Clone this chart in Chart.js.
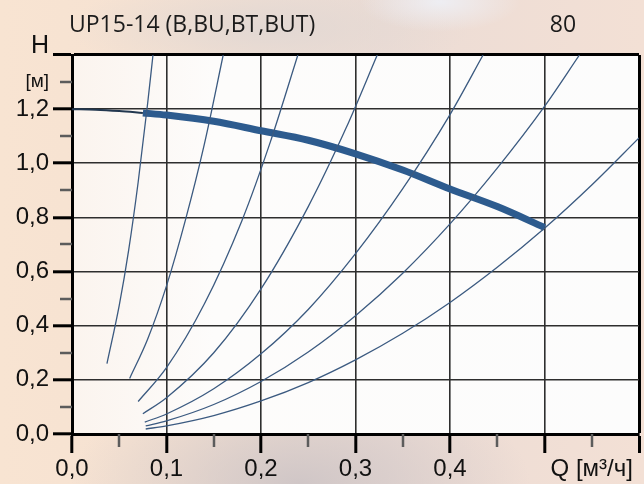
<!DOCTYPE html>
<html>
<head>
<meta charset="utf-8">
<script src="https://cdn.jsdelivr.net/npm/chart.js@4.4.1/dist/chart.umd.min.js"></script>
<style>
  html, body { margin: 0; padding: 0; }
  body {
    width: 644px; height: 484px; overflow: hidden;
    background:
      radial-gradient(ellipse 80px 30px at 440px 2px, rgba(238,241,248,0.85), rgba(238,241,248,0)),
      radial-gradient(ellipse 230px 110px at 300px 484px, rgba(206,197,198,0.95), rgba(206,197,198,0)),
      radial-gradient(ellipse 200px 55px at 270px 28px, rgba(224,215,211,0.9), rgba(224,215,211,0)),
      linear-gradient(90deg, #f8e4d2 0%, #f5e1d2 30%, #ecdcd5 60%, #f3e0d5 100%);
  }
  canvas { display: block; }
</style>
</head>
<body>
<canvas id="pump" width="644" height="484"></canvas>
<script>
// подписи
const chartTitle = "UP15-14 (B,BU,BT,BUT)";
const chartNote = "80";
const xTickValues = [0, 0.1, 0.2, 0.3, 0.4];
const xTickLabels = ["0,0", "0,1", "0,2", "0,3", "0,4"];
const xUnit = "Q [м³/ч]";
const yTickValues = [0, 0.2, 0.4, 0.6, 0.8, 1.0, 1.2];
const yTickLabels = ["0,0", "0,2", "0,4", "0,6", "0,8", "1,0", "1,2"];
const yUnit = "[м]";
const yName = "H";

// характеристика насоса (Q, H)
const pumpStart = [[0, 1.2], [0.025, 1.198], [0.05, 1.193], [0.075, 1.186]];
const pumpCurve = [[0.075, 1.186], [0.1, 1.178], [0.15, 1.155], [0.2, 1.12], [0.25, 1.085],
  [0.3, 1.035], [0.35, 0.975], [0.4, 0.905], [0.45, 0.84], [0.5, 0.763]];

// характеристики сети
const system1 = [[0.037, 0.26], [0.05, 0.475], [0.06, 0.68], [0.07, 0.93], [0.08, 1.22], [0.0857, 1.4]];
const system2 = [[0.061, 0.205], [0.08, 0.35], [0.1, 0.547], [0.12, 0.79], [0.14, 1.07], [0.16, 1.4]];
const system3 = [[0.07, 0.12], [0.1, 0.245], [0.14, 0.48], [0.18, 0.79], [0.21, 1.08], [0.239, 1.4]];
const system4 = [[0.075, 0.075], [0.1, 0.134], [0.15, 0.3], [0.2, 0.536], [0.25, 0.84], [0.29, 1.13], [0.323, 1.4]];
const system5 = [[0.077, 0.044], [0.1, 0.074], [0.15, 0.167], [0.2, 0.296], [0.25, 0.46], [0.3, 0.666],
  [0.35, 0.906], [0.4, 1.18], [0.435, 1.4]];
const system6 = [[0.078, 0.03], [0.1, 0.0485], [0.15, 0.109], [0.2, 0.194], [0.25, 0.303], [0.3, 0.437],
  [0.35, 0.594], [0.4, 0.776], [0.45, 0.982], [0.5, 1.21], [0.537, 1.4]];
const system7 = [[0.078, 0.0185], [0.1, 0.03], [0.15, 0.068], [0.2, 0.122], [0.25, 0.19], [0.3, 0.274],
  [0.35, 0.372], [0.4, 0.486], [0.45, 0.616], [0.5, 0.76], [0.55, 0.92], [0.6, 1.094]];

const systems = [system1, system2, system3, system4, system5, system6, system7];

const FONT = "'Liberation Sans', Arial, sans-serif";
const near = (a, b) => Math.abs(a - b) < 1e-6;
const onStep = (v, s) => Math.abs(v / s - Math.round(v / s)) < 1e-6;
const pts = (arr) => arr.map(([x, y]) => ({ x: x, y: y }));

const plotBg = {
  id: "plotBg",
  beforeDraw(chart) {
    const { ctx, chartArea: a } = chart;
    const g = ctx.createLinearGradient(a.left, 0, a.right, 0);
    g.addColorStop(0, "#fbf4ee");
    g.addColorStop(0.25, "#fdfcfb");
    g.addColorStop(1, "#fcfcfc");
    ctx.save();
    ctx.fillStyle = g;
    ctx.fillRect(a.left, a.top, a.right - a.left, a.bottom - a.top);
    ctx.restore();
  }
};

const extras = {
  id: "extras",
  afterDraw(chart) {
    const { ctx, chartArea: a, scales } = chart;
    ctx.save();
    // мелкие риски
    ctx.strokeStyle = "#5c5c5c";
    ctx.lineWidth = 2.5;
    ctx.beginPath();
    for (let i = 1; i < 12; i += 2) {
      const px = Math.round(scales.x.getPixelForValue(i * 0.05));
      ctx.moveTo(px, a.bottom);
      ctx.lineTo(px, a.bottom + 13);
    }
    for (let i = 1; i < 14; i += 2) {
      const py = Math.round(scales.y.getPixelForValue(i * 0.1));
      ctx.moveTo(a.left - 12, py);
      ctx.lineTo(a.left, py);
    }
    ctx.stroke();
    // заголовок
    ctx.fillStyle = "#1b1b1b";
    ctx.font = "23px 'Open Sans', sans-serif";
    ctx.textBaseline = "middle";
    ctx.textAlign = "left";
    ctx.fillText(chartTitle, 69, 25);
    ctx.textAlign = "center";
    ctx.fillText(chartNote, 563, 25);
    ctx.restore();
  }
};

const thin = { borderColor: "#3b5a80", borderWidth: 1.3, pointRadius: 0, cubicInterpolationMode: "monotone", fill: false };

new Chart(document.getElementById("pump"), {
  type: "line",
  data: {
    datasets: systems.map((s) => Object.assign({ data: pts(s) }, thin)).concat([
      { data: pts(pumpStart), borderColor: "#22374f", borderWidth: 2, pointRadius: 0, cubicInterpolationMode: "monotone" },
      { data: pts(pumpCurve), borderColor: "#2d5b8e", borderWidth: 7, borderCapStyle: "butt", pointRadius: 0, cubicInterpolationMode: "monotone" }
    ])
  },
  options: {
    responsive: false,
    animation: false,
    layout: { padding: { top: 55, right: 5, left: 0, bottom: 0 } },
    plugins: { legend: { display: false }, tooltip: { enabled: false } },
    scales: {
      x: {
        type: "linear", min: 0, max: 0.6,
        afterBuildTicks: (s) => { s.ticks = []; for (let i = 0; i <= 12; i++) s.ticks.push({ value: i * 0.05 }); },
        afterFit: (s) => { s.height = 50; },
        ticks: {
          autoSkip: false, maxRotation: 0, padding: 2, color: "#111",
          font: { family: FONT, size: 24 },
          callback: (v) => {
            const i = xTickValues.findIndex((t) => near(t, v));
            if (i >= 0) return xTickLabels[i];
            if (near(v, 0.55)) return xUnit;
            return "";
          }
        },
        grid: {
          color: (c) => {
            const v = c.tick.value;
            if (near(v, 0.6)) return "#000";
            if (onStep(v, 0.1) && v > 0.01) return "#2e2e2e";
            return "rgba(0,0,0,0)";
          },
          lineWidth: (c) => (near(c.tick.value, 0.6) ? 3 : 1.6),
          tickLength: 19,
          tickWidth: 3,
          tickColor: (c) => (onStep(c.tick.value, 0.1) ? "#000" : "rgba(0,0,0,0)")
        },
        border: { display: true, color: "#000", width: 3 }
      },
      y: {
        type: "linear", min: 0, max: 1.4,
        afterBuildTicks: (s) => { s.ticks = []; for (let i = 0; i <= 14; i++) s.ticks.push({ value: i * 0.1 }); },
        afterFit: (s) => { s.width = 72; },
        ticks: {
          autoSkip: false, padding: 4, color: "#111",
          font: (c) => {
            const v = c.tick ? c.tick.value : 0;
            if (near(v, 1.3)) return { family: FONT, size: 19 };
            if (near(v, 1.4)) return { family: FONT, size: 25, lineHeight: 0.7 };
            return { family: FONT, size: 24 };
          },
          callback: (v) => {
            const i = yTickValues.findIndex((t) => near(t, v));
            if (i >= 0) return yTickLabels[i];
            if (near(v, 1.3)) return yUnit;
            if (near(v, 1.4)) return [yName, ""];
            return "";
          }
        },
        grid: {
          color: (c) => {
            const v = c.tick.value;
            if (near(v, 1.4)) return "#000";
            if (onStep(v, 0.2) && v > 0.01) return "#2e2e2e";
            return "rgba(0,0,0,0)";
          },
          lineWidth: (c) => (near(c.tick.value, 1.4) ? 3 : 1.6),
          tickLength: 19,
          tickWidth: 3,
          tickColor: (c) => (onStep(c.tick.value, 0.2) ? "#000" : "rgba(0,0,0,0)")
        },
        border: { display: true, color: "#000", width: 3 }
      }
    }
  },
  plugins: [plotBg, extras]
});
</script>
</body>
</html>
